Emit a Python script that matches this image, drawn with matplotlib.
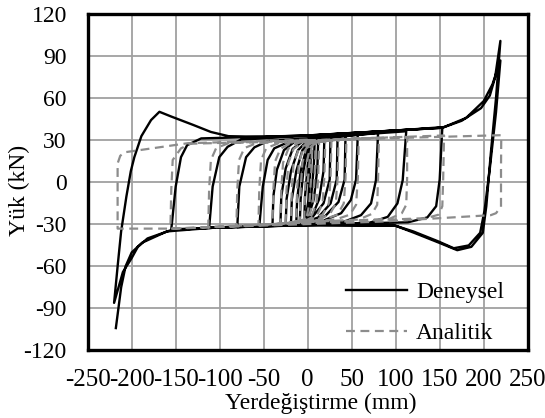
import matplotlib
matplotlib.use("Agg")
import matplotlib.pyplot as plt

plt.rcParams['font.family'] = 'Liberation Serif'
plt.rcParams['axes.unicode_minus'] = False

# tick values
x_ticks = [-250, -200, -150, -100, -50, 0, 50, 100, 150, 200, 250]
y_ticks = [-120, -90, -60, -30, 0, 30, 60, 90, 120]

# experimental (Deneysel) load path, one cycle per row
exp_x = [
    0, 2, 4,
    3, 1, -2, -4,
    -3, 0, 3, 8,
    7, 4, 0, -5, -9,
    -8, -5, 0, 6, 12,
    11, 7, 1, -6, -13,
    -12, -8, -2, 6, 19,
    18, 13, 5, -6, -19,
    -18, -13, -6, 4, 26,
    25, 18, 5, -8, -25,
    -24, -19, -11, 0, 34,
    33, 26, 12, -5, -31,
    -30, -25, -17, -4, 43,
    42, 35, 20, 0, -40,
    -39, -35, -27, -15, 57,
    55, 49, 38, 19, -55,
    -51, -45.5, -38, -23, 80,
    77.6, 72, 60.6, 41.6, -80,
    -77.7, -70, -60.6, -45.5, 112,
    108, 102, 91, 68, -112,
    -108, -100.5, -91, -76, 153,
    150, 146, 136, 114, 0, -155,
    -150, -144, -137, -121, 0, 153, 175, 197, 207, 213, 219,
    214, 208, 203, 199, 186, 170, 151, 121, 98, 0, -100, -155, -182, -193, -200, -210, -220,
    -216, -212, -206, -201, -197, -189, -178, -168.5, -155, -130, -110, -90, -50, 0, 100, 155, 180, 200, 210, 219,
    214, 207, 201, 196, 183, 166, 148, 120, 100, 0, -100, -160, -188, -200, -207, -212, -218,
]
exp_y = [
    0, 18, 30,
    10, -12, -25, -29,
    -10, 12, 26, 31,
    12, -10, -24, -28, -29.5,
    -12, 8, 24, 30, 32,
    10, -12, -24, -28, -30,
    -12, 8, 23, 30, 32.5,
    8, -12, -24, -28.5, -30,
    -12, 8, 23, 30, 33,
    2, -15, -25, -29, -30.5,
    -12, 8, 23, 30, 33.5,
    2, -15, -25, -29, -31,
    -10, 10, 24, 30, 34,
    2, -14, -24, -29, -31,
    -10, 9, 23, 29, 35,
    2, -12.6, -22, -27, -31.5,
    -3, 16, 24.3, 28.5, 35.5,
    1.6, -15, -23.4, -28, -32,
    -3, 18, 25, 29.5, 36.5,
    1.6, -15, -24.6, -29.3, -32.5,
    -3, 18, 25.4, 30.5, 39,
    2, -17, -25, -28.5, -30, -33.5,
    -3, 18, 26.6, 31.4, 33.5, 39, 44, 53, 62, 75, 101,
    60, 20, -17, -36, -46, -48.4, -43.5, -36, -30.5, -30.5, -32, -34, -40, -46, -54, -64, -86,
    -60, -35, -10, 8, 18, 33, 44.5, 50.4, 47, 41, 36, 33, 32.5, 33.5, 37, 39.5, 46, 58, 70, 87,
    50, 10, -20, -36, -45, -47, -42, -35, -31, -30.5, -32, -35, -43, -50, -60, -75, -104,
]

# analytical (Analitik) load path
ana_x = [
    0, 3, 5,
    4, 2, -1, -4,
    -3, -1, 3, 9,
    8, 6, 2, -4, -9,
    -8, -6, -2, 5, 13,
    12, 10, 5, -4, -13,
    -12, -10, -5, 4, 20,
    19, 17, 11, 0, -19,
    -18, -16, -10, 0, 27,
    26, 24, 17, 5, -25,
    -24, -22, -16, -5, 35,
    34, 32, 25, 10, -31,
    -30, -28, -22, -10, 44,
    43, 41, 34, 18, -40,
    -39, -37, -31, -18, 58,
    57, 55, 48, 32, -56,
    -55, -53, -47, -33, 81,
    80, 79, 73, 58, -81,
    -80, -78, -72, -58, 113,
    113, 112, 107, 93, -113,
    -112, -110, -104, -90, 155,
    154, 153, 149, 135, -156,
    -155, -153.4, -144, -133, 220,
    219.7, 219.7, 214, 208, 83, -155, -216,
    -216, -216, -213, -208, -136, -76, 0,
]
ana_y = [
    0, 20, 27,
    5, -15, -24, -27,
    -5, 15, 25, 28,
    5, -15, -23, -26.5, -27.5,
    -5, 14, 24, 27.5, 29,
    5, -15, -23, -26.5, -28,
    -5, 14, 24, 28, 29.5,
    5, -15, -23, -26.5, -28.5,
    -5, 14, 24, 28, 30,
    3, -15, -23, -26.5, -29,
    -5, 14, 24, 28.5, 30.5,
    3, -15, -23, -26.5, -29.5,
    -5, 14, 24, 28.5, 31,
    3, -15, -23, -26.5, -30,
    -5, 15, 24, 28.5, 31.5,
    3, -16, -23, -26.5, -30.5,
    -5, 16, 24.5, 28, 32,
    3, -16, -22.5, -26.5, -31,
    -5, 16, 24.5, 28, 32.5,
    3, -16, -22, -26, -32,
    -5, 16, 24.5, 28, 33.5,
    3, -17, -23, -25.5, -33,
    -5, 16, 24.3, 27.6, 33.7,
    10, -17.4, -22, -23.4, -28, -33, -33,
    -5, 13.5, 19, 21.5, 28, 29, 30.5,
]

fig = plt.figure(figsize=(5.45, 4.18), dpi=100)
ax = fig.add_axes([0.1609, 0.1615, 0.8073, 0.8043])

ax.plot(exp_x, exp_y, color='black', lw=1.7, label='Deneysel', zorder=3)
ax.plot(ana_x, ana_y, color='#8c8c8c', lw=1.6, dashes=(4, 2.5), label='Analitik', zorder=4)

ax.set_xlim(-250, 250)
ax.set_ylim(-120, 120)
ax.set_xticks(x_ticks)
ax.set_yticks(y_ticks)
ax.tick_params(axis='both', length=0, labelsize=17)
ax.tick_params(axis='x', pad=13, labelsize=18)
ax.tick_params(axis='y', pad=15)
ax.grid(True, color='#a0a0a0', lw=1.3)
ax.set_axisbelow(True)
for s in ax.spines.values():
    s.set_linewidth(2.4)
    s.set_color('black')

ax.set_xlabel('Yerdeğiştirme (mm)', fontsize=17)
ax.set_ylabel('Yük (kN)', fontsize=17)
ax.xaxis.set_label_coords(0.53, -0.126)
ax.yaxis.set_label_coords(-0.13, 0.475)

ax.legend(loc='lower right', bbox_to_anchor=(0.946, 0.02), frameon=False, fontsize=17,
          handlelength=2.6, handletextpad=0.36, labelspacing=0.8, borderpad=0, borderaxespad=0)

fig.savefig('out.png', dpi=100)
